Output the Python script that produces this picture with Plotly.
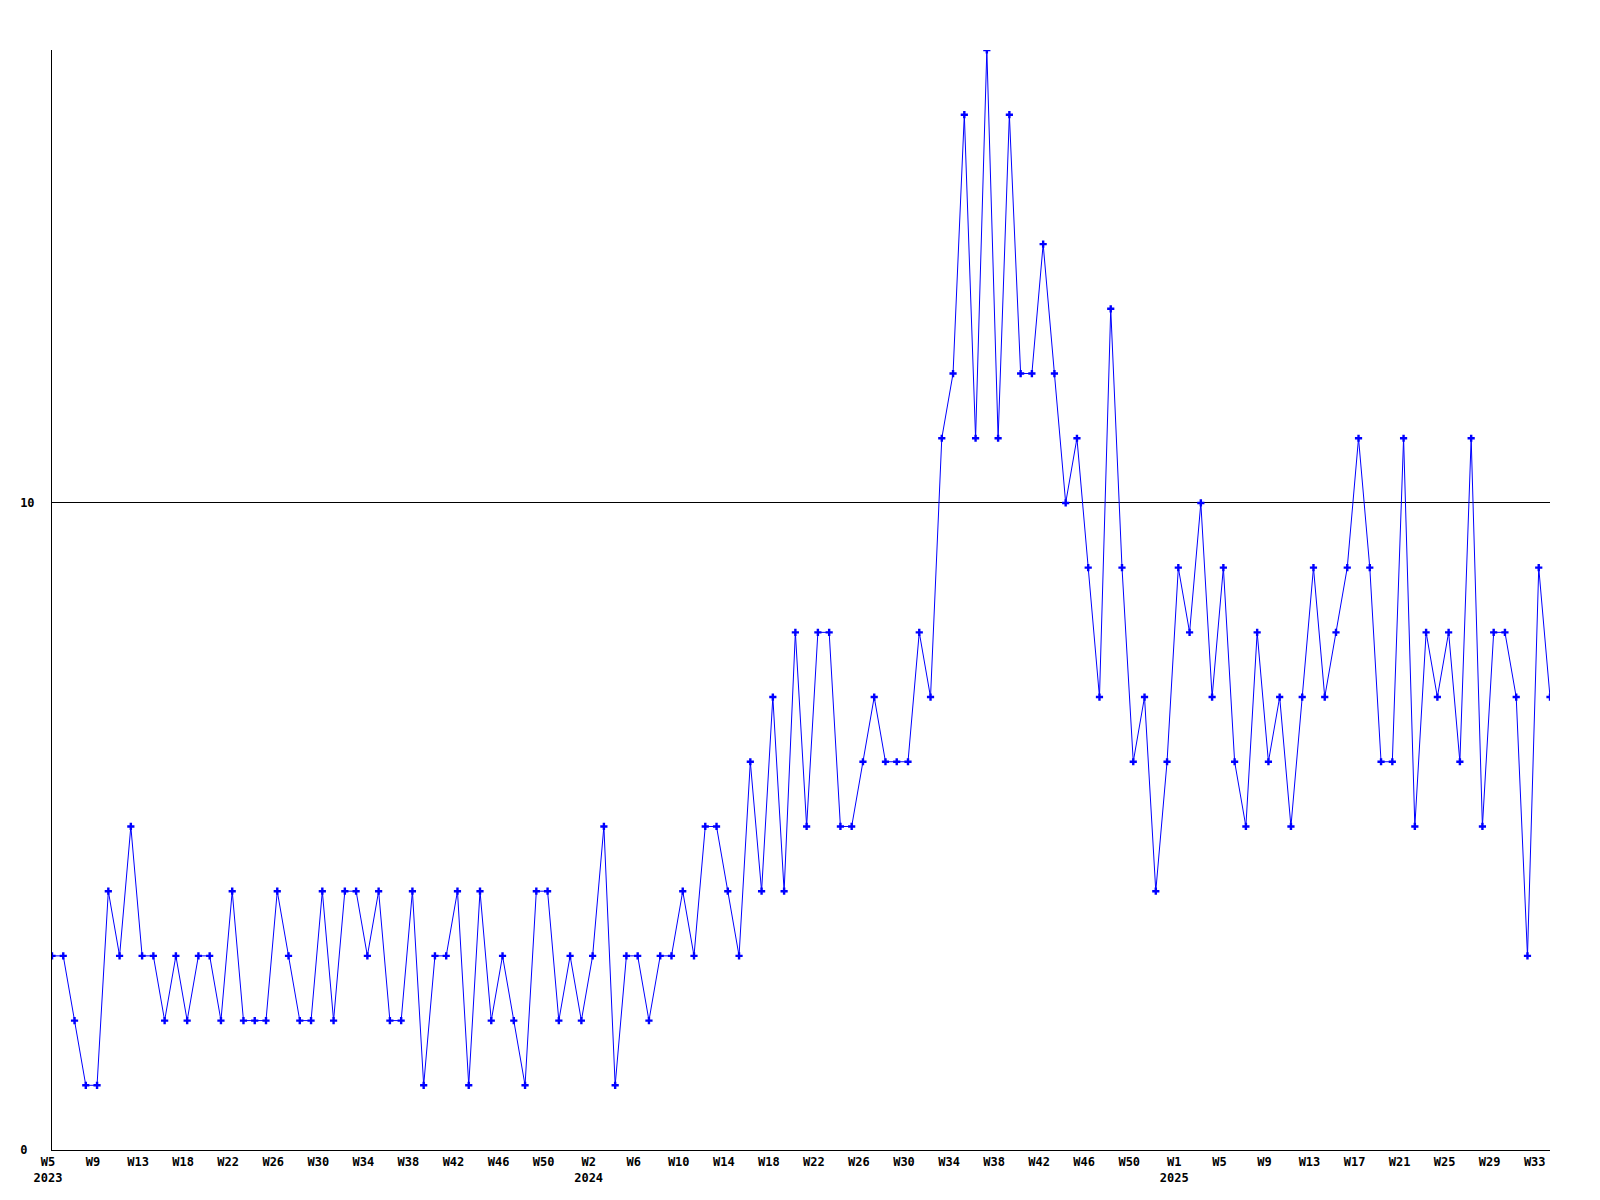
import plotly.graph_objects as go

# ---- data ----
weeks_2023 = [5, 6, 7, 8, 9, 10, 11, 12, 13, 14, 15, 17, 18, 19, 20, 21, 22, 23, 24, 25,
              26, 27, 28, 29, 30, 31, 32, 33, 34, 35, 36, 37, 38, 39, 40, 41, 42, 43, 44,
              45, 46, 47, 48, 49, 50, 51, 52]
weeks_2024 = [1, 2, 3, 4, 5, 6, 7, 8, 9, 10, 11, 12, 13, 14, 15, 16, 17, 18, 19, 20, 21,
              22, 23, 24, 25, 26, 27, 28, 29, 30, 31, 32, 33, 34, 35, 36, 37, 38, 39, 40,
              41, 42, 43, 44, 45, 46, 47, 48, 49, 50, 51, 52, 53]
weeks_2025 = [1, 2, 3, 4, 5, 6, 7, 8, 9, 10, 11, 12, 13, 14, 15, 16, 17, 18, 19, 20, 21,
              22, 23, 24, 25, 26, 27, 28, 29, 30, 31, 32, 33, 34]

values = [3, 3, 2, 1, 1, 4, 3, 5, 3, 3,
          2, 3, 2, 3, 3, 2, 4, 2, 2, 2,
          4, 3, 2, 2, 4, 2, 4, 4, 3, 4,
          2, 2, 4, 1, 3, 3, 4, 1, 4, 2,
          3, 2, 1, 4, 4, 2, 3, 2, 3, 5,
          1, 3, 3, 2, 3, 3, 4, 3, 5, 5,
          4, 3, 6, 4, 7, 4, 8, 5, 8, 8,
          5, 5, 6, 7, 6, 6, 6, 8, 7, 11,
          12, 16, 11, 17, 11, 16, 12, 12, 14, 12,
          10, 11, 9, 7, 13, 9, 6, 7, 4, 6,
          9, 8, 10, 7, 9, 6, 5, 8, 6, 7,
          5, 7, 9, 7, 8, 9, 11, 9, 6, 6,
          11, 5, 8, 7, 8, 6, 11, 5, 8, 8,
          7, 3, 9, 7]

y_ticks = [0, 10]
y_tick_text = ["0\u00a0", "10"]
tick_step = 4

# ---- categories & tick labels ----
cats, week_nums, years = [], [], []
for yr, wl in ((2023, weeks_2023), (2024, weeks_2024), (2025, weeks_2025)):
    for w in wl:
        cats.append(f"{yr}-W{w:02d}")
        week_nums.append(w)
        years.append(yr)

tickvals, ticktext = [], []
seen_years = set()
for i in range(0, len(cats), tick_step):
    label = f"W{week_nums[i]}"
    if years[i] not in seen_years:
        label += f"<br>{years[i]}"
        seen_years.add(years[i])
    tickvals.append(cats[i])
    ticktext.append(label)

font = dict(family="DejaVu Sans Mono, Liberation Mono, monospace", size=12,
            color="black", weight="bold")

fig = go.Figure()
fig.add_trace(go.Scatter(
    x=cats, y=values, mode="lines+markers",
    line=dict(color="#0000ff", width=1),
    marker=dict(symbol="cross", size=6, color="#0000ff", line=dict(width=0)),
    showlegend=False, hoverinfo="x+y",
))

fig.update_layout(
    width=1592, height=1192,
    margin=dict(l=42, r=50, t=42, b=50),
    paper_bgcolor="white", plot_bgcolor="white",
    font=font,
    xaxis=dict(
        type="category", range=[0, len(cats) - 1],
        tickmode="array", tickvals=tickvals, ticktext=ticktext,
        tickangle=0, tickfont=font,
        showgrid=False, zeroline=False,
        showline=True, linecolor="black", linewidth=1,
        ticks="", ticklabelstandoff=1, ticklabelshift=-4,
    ),
    yaxis=dict(
        range=[0, 17], tickmode="array", tickvals=y_ticks, ticktext=y_tick_text,
        tickfont=font,
        showgrid=True, gridcolor="black", gridwidth=1,
        zeroline=False,
        showline=True, linecolor="black", linewidth=1,
        ticks="", ticklabelstandoff=14,
    ),
)

fig.write_html("out.html")
